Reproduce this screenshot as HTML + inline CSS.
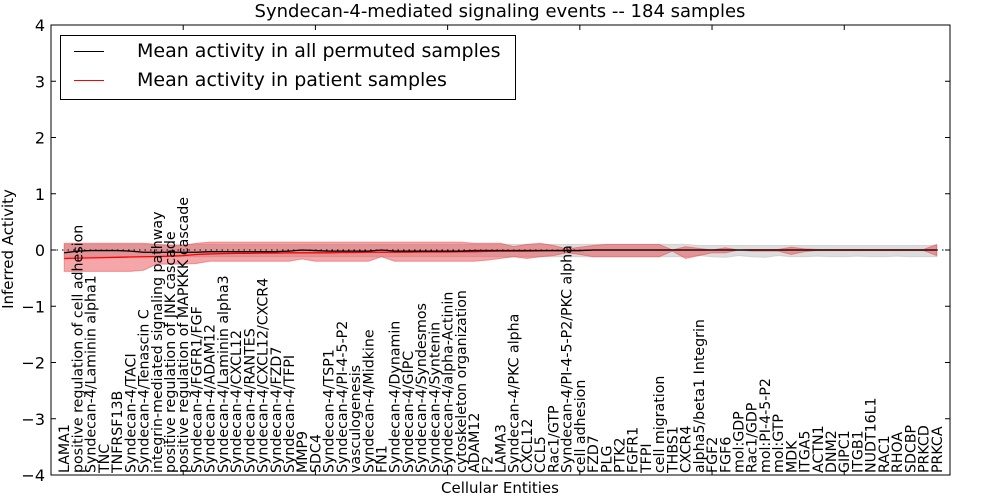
<!DOCTYPE html>
<html><head><meta charset="utf-8"><style>
body{margin:0;background:#fff;}
svg{display:block;font-family:"DejaVu Sans","Liberation Sans",sans-serif;}
</style></head><body>
<svg id="chart" width="1000" height="500"></svg>
<script>
const categories=["LAMA1","positive regulation of cell adhesion","Syndecan-4/Laminin alpha1","TNC","TNFRSF13B","Syndecan-4/TACI","Syndecan-4/Tenascin C","integrin-mediated signaling pathway","positive regulation of JNK cascade","positive regulation of MAPKKK cascade","Syndecan-4/FGFR1/FGF","Syndecan-4/ADAM12","Syndecan-4/Laminin alpha3","Syndecan-4/CXCL12","Syndecan-4/RANTES","Syndecan-4/CXCL12/CXCR4","Syndecan-4/FZD7","Syndecan-4/TFPI","MMP9","SDC4","Syndecan-4/TSP1","Syndecan-4/PI-4-5-P2","vasculogenesis","Syndecan-4/Midkine","FN1","Syndecan-4/Dynamin","Syndecan-4/GIPC","Syndecan-4/Syndesmos","Syndecan-4/Syntenin","Syndecan-4/alpha-Actinin","cytoskeleton organization","ADAM12","F2","LAMA3","Syndecan-4/PKC alpha","CXCL12","CCL5","Rac1/GTP","Syndecan-4/PI-4-5-P2/PKC alpha","cell adhesion","FZD7","PLG","PTK2","FGFR1","TFPI","cell migration","THBS1","CXCR4","alpha5/beta1 Integrin","FGF2","FGF6","mol:GDP","Rac1/GDP","mol:PI-4-5-P2","mol:GTP","MDK","ITGA5","ACTN1","DNM2","GIPC1","ITGB1","NUDT16L1","RAC1","RHOA","SDCBP","PRKCD","PRKCA"];
const permMean=[-0.05,-0.02,-0.01,-0.01,-0.01,-0.02,-0.04,-0.04,-0.04,-0.04,-0.04,-0.03,-0.03,-0.03,-0.03,-0.03,-0.03,-0.02,0,-0.01,-0.02,-0.02,-0.02,-0.02,0,-0.02,-0.02,-0.02,-0.02,-0.02,-0.02,-0.01,-0.01,-0.01,-0.01,-0.01,-0.01,-0.01,-0.01,-0.01,0,0,0,0,0,0,0,0,0,0,0,0,0,0,0,0,0,0,0,0,0,0,0,0,0,0,0];
const permHi=[0.1,0.1,0.1,0.1,0.1,0.1,0.1,0.1,0.1,0.1,0.1,0.1,0.1,0.1,0.1,0.1,0.1,0.1,0.1,0.1,0.1,0.1,0.1,0.1,0.1,0.1,0.1,0.1,0.1,0.1,0.1,0.1,0.1,0.1,0.1,0.1,0.1,0.1,0.1,0.1,0.1,0.1,0.1,0.1,0.1,0.1,0.1,0.1,0.08,0.08,0.08,0.08,0.08,0.08,0.08,0.08,0.08,0.08,0.08,0.08,0.08,0.08,0.08,0.08,0.08,0.08,0.08];
const permLo=[-0.12,-0.12,-0.12,-0.12,-0.12,-0.12,-0.12,-0.12,-0.12,-0.12,-0.12,-0.12,-0.12,-0.12,-0.12,-0.12,-0.12,-0.12,-0.12,-0.12,-0.12,-0.12,-0.12,-0.12,-0.12,-0.12,-0.12,-0.12,-0.12,-0.12,-0.12,-0.12,-0.12,-0.12,-0.12,-0.12,-0.12,-0.12,-0.12,-0.12,-0.12,-0.12,-0.12,-0.12,-0.12,-0.12,-0.12,-0.12,-0.1,-0.12,-0.13,-0.1,-0.12,-0.13,-0.1,-0.12,-0.12,-0.11,-0.12,-0.12,-0.11,-0.12,-0.12,-0.11,-0.12,-0.12,-0.12];
const patMean=[-0.15,-0.145,-0.14,-0.135,-0.13,-0.125,-0.12,-0.115,-0.11,-0.1,-0.08,-0.07,-0.065,-0.06,-0.06,-0.055,-0.055,-0.05,-0.05,-0.05,-0.05,-0.045,-0.045,-0.04,-0.04,-0.04,-0.04,-0.035,-0.035,-0.035,-0.03,-0.03,-0.025,-0.02,-0.02,-0.02,-0.015,-0.01,-0.01,-0.01,0,0,0,0,0,0,0,0,0,0,0,0,0,0,0,0,0,0,0,0,0,0,0,0,0,0,0];
const patHi=[0.12,0.12,0.12,0.12,0.12,0.12,0.12,0.1,0.08,0.08,0.12,0.14,0.14,0.14,0.14,0.14,0.14,0.14,0.14,0.14,0.14,0.14,0.14,0.14,0.14,0.14,0.14,0.14,0.14,0.14,0.14,0.12,0.12,0.12,0.06,0.1,0.12,0.08,0.02,0.05,0.08,0.1,0.1,0.1,0.1,0.1,0.0,0.06,0.03,0.0,0.04,0.0,0.01,0.01,0.01,0.05,0.02,0.01,0.01,0.01,0.01,0.01,0.01,0.01,0.01,0.01,0.1];
const patLo=[-0.38,-0.38,-0.38,-0.38,-0.38,-0.38,-0.36,-0.25,-0.25,-0.25,-0.24,-0.2,-0.2,-0.2,-0.2,-0.2,-0.2,-0.2,-0.16,-0.2,-0.2,-0.2,-0.2,-0.2,-0.12,-0.2,-0.2,-0.2,-0.2,-0.2,-0.2,-0.2,-0.18,-0.15,-0.12,-0.15,-0.12,-0.1,-0.05,-0.08,-0.12,-0.12,-0.12,-0.12,-0.12,-0.12,-0.02,-0.15,-0.1,-0.05,-0.05,0,-0.02,-0.02,-0.02,-0.08,-0.03,-0.01,-0.01,-0.01,-0.01,-0.01,-0.01,-0.01,-0.01,-0.01,-0.1];
const yTicks=[-4,-3,-2,-1,0,1,2,3,4];
const xTicks=[0,10,20,30,40,50,60];

const L=51,R=950,T=25,B=475,XMAX=68;
const X=v=>L+(R-L)*v/XMAX;
const Y=v=>T+(B-T)*(4-v)/8;
const NS="http://www.w3.org/2000/svg";
const svg=document.getElementById('chart');
function mk(tag,attrs,parent){const e=document.createElementNS(NS,tag);for(const k in attrs)e.setAttribute(k,attrs[k]);(parent||svg).appendChild(e);return e;}
function band(hi,lo,fill,op,name){
  let d="";
  hi.forEach((v,i)=>{d+=(i?"L":"M")+X(i+1)+","+Y(v);});
  for(let i=lo.length-1;i>=0;i--)d+="L"+X(i+1)+","+Y(lo[i]);
  const p=mk('path',{d:d+"Z",fill:fill,'fill-opacity':op,stroke:fill,'stroke-opacity':op});
  
  
}
function line(vals,color,name){
  const pts=vals.map((v,i)=>X(i+1)+","+Y(v)).join(" ");
  const p=mk('polyline',{points:pts,fill:"none",stroke:color,'stroke-width':1.3});
  
  
}
band(permHi,permLo,"#bbbbbb",0.5,"permuted-band");
band(patHi,patLo,"#e8393d",0.45,"patient-band");
const zl=mk('line',{x1:L,x2:R,y1:Y(0),y2:Y(0),stroke:"#000",'stroke-dasharray':"1.5,4",'stroke-width':1});


line(patMean,"#ff0000","patient-mean-line");
line(permMean,"#000000","permuted-mean-line");
const fr=mk('rect',{x:L,y:T,width:R-L,height:B-T,fill:"none",stroke:"#000",'stroke-width':1});


yTicks.forEach(v=>{
  mk('line',{x1:L,x2:L+5,y1:Y(v),y2:Y(v),stroke:"#000"});
  mk('line',{x1:R,x2:R-5,y1:Y(v),y2:Y(v),stroke:"#000"});
  const t=mk('text',{x:L-6,y:Y(v)+6,'text-anchor':"end",'font-size':16});
  t.textContent=(v<0?"\u2212":"")+Math.abs(v);
  
  
});
xTicks.forEach(v=>{
  mk('line',{x1:X(v),x2:X(v),y1:T,y2:T+5,stroke:"#000"});
  mk('line',{x1:X(v),x2:X(v),y1:B,y2:B-5,stroke:"#000"});
});
categories.forEach((c,i)=>{
  const x=X(i+1)+5;
  const t=mk('text',{x:x,y:473,transform:`rotate(-90 ${x} 473)`,'font-size':14.2});
  t.textContent=c;
  
  
});
</script>
<div style="position:absolute;left:0;top:0;width:1000px;height:500px;pointer-events:none;font-family:'DejaVu Sans','Liberation Sans',sans-serif;">
  <div style="position:absolute;left:0;width:1000px;top:1px;text-align:center;font-size:18px;">Syndecan-4-mediated signaling events -- 184 samples</div>
  <div style="position:absolute;left:0;width:1000px;top:479px;text-align:center;font-size:15px;">Cellular Entities</div>
  <div style="position:absolute;left:-52px;top:240px;width:120px;text-align:center;font-size:15px;transform:rotate(-90deg);">Inferred Activity</div>
  <div style="position:absolute;left:60px;top:35px;width:454px;height:63px;border:1px solid #000;background:#fff;">
    <div style="position:absolute;left:13px;top:4px;font-size:19px;white-space:nowrap;"><span style="display:inline-block;width:30px;height:0;border-top:1.3px solid #000;vertical-align:middle;margin-right:33px;"></span>Mean activity in all permuted samples</div>
    <div style="position:absolute;left:13px;top:33px;font-size:19px;white-space:nowrap;"><span style="display:inline-block;width:30px;height:0;border-top:1.3px solid #f00;vertical-align:middle;margin-right:33px;"></span>Mean activity in patient samples</div>
  </div>
</div>
</body></html>
